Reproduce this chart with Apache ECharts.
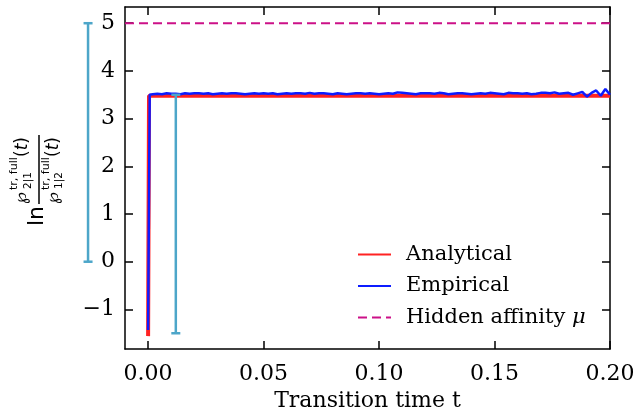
<!DOCTYPE html>
<html>
<head>
    <meta charset="utf-8">
    <script src="https://cdn.jsdelivr.net/npm/echarts@6/dist/echarts.min.js"></script>
    <title>transition affinity</title>
    <style>
        body { margin: 0; background: #fff; }
        #main { width: 636px; height: 416px; }
    </style>
</head>
<body>
<div id="main"></div>
<script>
    // data
    var xTicks = [0, 0.05, 0.10, 0.15, 0.20];
    var yTicks = [-1, 0, 1, 2, 3, 4, 5];

    // analytical curve
    var anaX = [0, 0.0004, 0.2];
    var anaY = [-1.56, 3.48, 3.48];

    // empirical curve (start jump, then noisy plateau)
    var empX = [0, 0.0007, 0.002, 0.004, 0.006, 0.008, 0.010, 0.012, 0.014, 0.016, 0.018, 0.020,
        0.022, 0.024, 0.026, 0.028, 0.030, 0.032, 0.034, 0.036, 0.038, 0.040,
        0.042, 0.044, 0.046, 0.048, 0.050, 0.052, 0.054, 0.056, 0.058, 0.060,
        0.062, 0.064, 0.066, 0.068, 0.070, 0.072, 0.074, 0.076, 0.078, 0.080,
        0.082, 0.084, 0.086, 0.088, 0.090, 0.092, 0.094, 0.096, 0.098, 0.100,
        0.102, 0.104, 0.106, 0.108, 0.110, 0.112, 0.114, 0.116, 0.118, 0.120,
        0.122, 0.124, 0.126, 0.128, 0.130, 0.132, 0.134, 0.136, 0.138, 0.140,
        0.142, 0.144, 0.146, 0.148, 0.150, 0.152, 0.154, 0.156, 0.158, 0.160,
        0.162, 0.164, 0.166, 0.168, 0.170, 0.172, 0.174, 0.176, 0.178, 0.180,
        0.182, 0.184, 0.186, 0.188, 0.190, 0.192, 0.194, 0.196, 0.198, 0.200];
    var empY = [-1.43, 3.50, 3.51, 3.52, 3.51, 3.53, 3.52, 3.52, 3.51, 3.53, 3.52, 3.53,
        3.53, 3.52, 3.53, 3.51, 3.52, 3.53, 3.52, 3.53, 3.53, 3.52,
        3.51, 3.52, 3.53, 3.52, 3.53, 3.52, 3.53, 3.51, 3.52, 3.53,
        3.52, 3.53, 3.53, 3.52, 3.54, 3.52, 3.53, 3.53, 3.52, 3.51,
        3.53, 3.52, 3.51, 3.52, 3.53, 3.53, 3.52, 3.53, 3.52, 3.51,
        3.52, 3.53, 3.52, 3.55, 3.54, 3.53, 3.52, 3.51, 3.53, 3.53,
        3.53, 3.52, 3.54, 3.53, 3.51, 3.52, 3.53, 3.53, 3.52, 3.51,
        3.52, 3.53, 3.52, 3.54, 3.53, 3.52, 3.51, 3.54, 3.53, 3.53,
        3.52, 3.53, 3.51, 3.52, 3.54, 3.54, 3.53, 3.55, 3.52, 3.53,
        3.54, 3.50, 3.53, 3.56, 3.46, 3.54, 3.59, 3.48, 3.62, 3.50];

    // hidden affinity
    var muX = [-0.01, 0.2];
    var muY = [5, 5];

    // vertical bars with caps
    var barX = [-0.026, 0.012];
    var barLow = [0, -1.5];
    var barHigh = [5, 3.5];

    function zip(a, b) {
        return a.map(function (v, i) { return [v, b[i]]; });
    }

    var serif = 'DejaVu Serif';
    var sans = 'DejaVu Sans';

    var axisBase = {
        type: 'value',
        axisLine: { show: true, onZero: false, lineStyle: { color: '#000', width: 1.5 } },
        splitLine: { show: false }
    };

    // y label (rotated fraction)
    function lbl(text, x, y, size, extra) {
        var s = { text: text, x: x, y: y, fontFamily: sans, fontSize: size, fill: '#000',
            align: 'left', verticalAlign: 'middle' };
        if (extra) s.rich = extra;
        return { type: 'text', style: s };
    }
    var itRich = { i: { fontFamily: sans, fontStyle: 'italic', fontSize: 17 } };
    var ylabel = {
        type: 'group', x: 40, y: 170, rotation: Math.PI / 2,
        children: [
            lbl('ln', -56, -3, 22),
            { type: 'line', shape: { x1: -34, y1: -1, x2: 35, y2: -1 }, style: { stroke: '#000', lineWidth: 1.5 } },
            lbl('℘', -34, -18, 17),
            lbl('tr, full', -20, -26, 11),
            lbl('2|1', -19, -12, 10.5),
            lbl('({i|t})', 13, -17, 17, itRich),
            lbl('℘', -34, 14, 17),
            lbl('tr, full', -20, 6, 11),
            lbl('1|2', -19, 19, 10.5),
            lbl('({i|t})', 13, 14, 17, itRich)
        ]
    };

    var chart = echarts.init(document.getElementById('main'));
    var option = {
        animation: false,
        backgroundColor: '#fff',
        grid: { left: 125, right: 26, top: 7, bottom: 67, outerBoundsMode: 'none' },
        xAxis: [
            Object.assign({}, axisBase, {
                min: -0.01, max: 0.2, position: 'bottom',
                name: 'Transition time t', nameLocation: 'middle', nameGap: 39,
                nameTextStyle: { fontFamily: serif, fontSize: 22, color: '#000' },
                axisTick: { show: true, inside: true, length: 8, customValues: xTicks,
                    lineStyle: { color: '#000', width: 1.5 } },
                axisLabel: { show: true, margin: 14, customValues: xTicks, fontFamily: serif, fontSize: 22,
                    color: '#000', formatter: function (v) { return v.toFixed(2); } }
            }),
            Object.assign({}, axisBase, {
                min: -0.01, max: 0.2, position: 'top',
                axisTick: { show: true, inside: true, length: 8, customValues: xTicks,
                    lineStyle: { color: '#000', width: 1.5 } },
                axisLabel: { show: false }
            })
        ],
        yAxis: [
            Object.assign({}, axisBase, {
                min: -1.83, max: 5.34, position: 'left',
                axisTick: { show: true, inside: true, length: 8, customValues: yTicks,
                    lineStyle: { color: '#000', width: 1.5 } },
                axisLabel: { show: true, margin: 10, customValues: yTicks, fontFamily: serif, fontSize: 22,
                    color: '#000', formatter: function (v) { return v < 0 ? '\u2212' + Math.abs(v) : String(v); } }
            }),
            Object.assign({}, axisBase, {
                min: -1.83, max: 5.34, position: 'right',
                axisTick: { show: true, inside: true, length: 8, customValues: yTicks,
                    lineStyle: { color: '#000', width: 1.5 } },
                axisLabel: { show: false }
            })
        ],
        legend: {
            orient: 'vertical', left: 352, top: 239,
            itemWidth: 33, itemHeight: 14, itemGap: 10.5,
            itemStyle: { opacity: 0 },
            data: ['Analytical', 'Empirical', 'Hidden affinity μ'],
            textStyle: { fontFamily: serif, fontSize: 21, color: '#000', padding: [0, 0, 0, 10],
                rich: { i: { fontFamily: serif, fontStyle: 'italic', fontSize: 21, color: '#000' } } },
            formatter: function (n) { return n === 'Hidden affinity μ' ? 'Hidden affinity {i|μ}' : n; }
        },
        graphic: [ylabel],
        series: [
            {
                name: 'Hidden affinity μ', type: 'line', symbol: 'none',
                data: zip(muX, muY),
                lineStyle: { color: '#cc1188', width: 2, type: [9, 5] },
                itemStyle: { color: '#cc1188' }
            },
            {
                name: 'Analytical', type: 'line', symbol: 'none',
                data: zip(anaX, anaY),
                lineStyle: { color: '#ff2222', width: 4 },
                itemStyle: { color: '#ff2222' }
            },
            {
                name: 'Empirical', type: 'line', symbol: 'none',
                data: zip(empX, empY),
                lineStyle: { color: '#0d1cff', width: 2.5 },
                itemStyle: { color: '#0d1cff' }
            },
            {
                name: 'bars', type: 'custom', clip: false, z: 5,
                data: barX.map(function (x, i) { return [x, barLow[i], barHigh[i]]; }),
                renderItem: function (params, api) {
                    var lo = api.coord([api.value(0), api.value(1)]);
                    var hi = api.coord([api.value(0), api.value(2)]);
                    var cap = 4.5;
                    var st = { stroke: '#4da6c9', lineWidth: 2.5 };
                    return {
                        type: 'group', children: [
                            { type: 'line', shape: { x1: lo[0], y1: lo[1], x2: hi[0], y2: hi[1] }, style: st },
                            { type: 'line', shape: { x1: lo[0] - cap, y1: lo[1], x2: lo[0] + cap, y2: lo[1] }, style: st },
                            { type: 'line', shape: { x1: hi[0] - cap, y1: hi[1], x2: hi[0] + cap, y2: hi[1] }, style: st }
                        ]
                    };
                }
            }
        ]
    };
    chart.setOption(option);
</script>
</body>
</html>
